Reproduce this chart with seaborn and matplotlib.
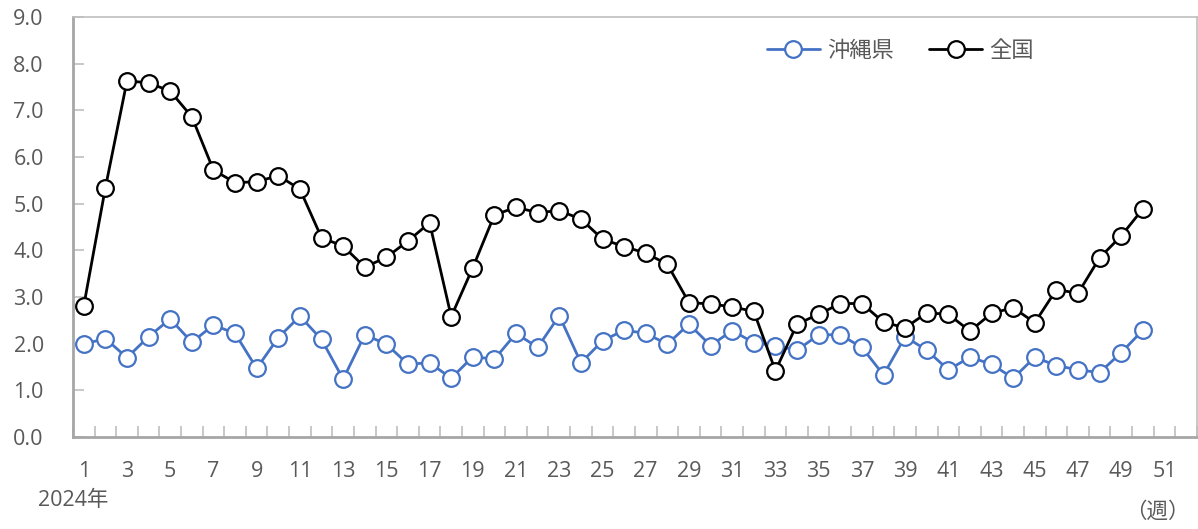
import matplotlib
matplotlib.use("Agg")
import matplotlib.pyplot as plt
import seaborn as sns
import pandas as pd
from matplotlib.ticker import FixedLocator, FormatStrFormatter

# 週ごとのデータ (2024年)
weeks = list(range(1, 51))
okinawa = [1.99, 2.11, 1.70, 2.15, 2.53, 2.03, 2.40, 2.22, 1.47, 2.13,
           2.59, 2.09, 1.24, 2.19, 1.99, 1.56, 1.59, 1.26, 1.72, 1.67,
           2.22, 1.92, 2.60, 1.59, 2.06, 2.29, 2.22, 1.99, 2.42, 1.96,
           2.28, 2.02, 1.96, 1.86, 2.19, 2.19, 1.92, 1.33, 2.15, 1.86,
           1.44, 1.71, 1.56, 1.26, 1.71, 1.53, 1.44, 1.38, 1.81, 2.29]
zenkoku = [2.81, 5.34, 7.63, 7.59, 7.41, 6.86, 5.72, 5.45, 5.47, 5.60,
           5.31, 4.27, 4.09, 3.64, 3.85, 4.20, 4.59, 2.58, 3.63, 4.76,
           4.92, 4.81, 4.85, 4.67, 4.24, 4.08, 3.94, 3.70, 2.88, 2.85,
           2.79, 2.69, 1.42, 2.42, 2.63, 2.86, 2.86, 2.46, 2.34, 2.66,
           2.63, 2.27, 2.65, 2.77, 2.45, 3.16, 3.08, 3.84, 4.31, 4.89]
week_labels = list(range(1, 52, 2))
y_ticks = [0, 1, 2, 3, 4, 5, 6, 7, 8, 9]

sns.set_style("white")
plt.rcParams['font.family'] = ['Open Sans', 'Noto Sans CJK JP', 'DejaVu Sans']

fig = plt.figure(figsize=(11.98, 5.29), dpi=100)
ax = fig.add_axes([0.0609, 0.1739, 0.9382, 0.794])

df1 = pd.DataFrame({'week': weeks, 'value': okinawa})
df2 = pd.DataFrame({'week': weeks, 'value': zenkoku})

sns.lineplot(data=df1, x='week', y='value', ax=ax, color='#4472C4', lw=2.0,
             marker='o', markersize=12, markerfacecolor='white',
             markeredgecolor='#4472C4', markeredgewidth=1.6, label='沖縄県')
sns.lineplot(data=df2, x='week', y='value', ax=ax, color='black', lw=2.0,
             marker='o', markersize=12, markerfacecolor='white',
             markeredgecolor='black', markeredgewidth=1.6, label='全国')

ax.set_xlim(0.5, 52.5)
ax.set_ylim(0, 9)
ax.set_xlabel('')
ax.set_ylabel('')

# x: 奇数週のラベル、目盛り線は区切り位置
ax.xaxis.set_major_locator(FixedLocator(week_labels))
ax.set_xticklabels([str(w) for w in week_labels])
ax.xaxis.set_minor_locator(FixedLocator([w + 0.5 for w in range(0, 53)]))
ax.tick_params(axis='x', which='major', length=0, pad=17, labelsize=15.5, colors='#595959')
ax.tick_params(axis='x', which='minor', length=8, width=1.2, direction='in', color='#bfbfbf', bottom=True)

ax.set_yticks(y_ticks)
ax.yaxis.set_major_formatter(FormatStrFormatter('%.1f'))
ax.tick_params(axis='y', length=8, width=1.2, direction='in', pad=21, labelsize=15.5,
               colors='#595959', color='#bfbfbf', left=True)

for s in ['left', 'bottom']:
    ax.spines[s].set_color('#a6a6a6')
    ax.spines[s].set_linewidth(2)
for s in ['top', 'right']:
    ax.spines[s].set_color('#bfbfbf')
    ax.spines[s].set_linewidth(1.2)

leg = ax.legend(loc='center', bbox_to_anchor=(0.736, 0.919), ncol=2, frameon=False,
                fontsize=16, handlelength=2.4, columnspacing=1.6, handletextpad=0.3)
for t in leg.get_texts():
    t.set_color('#595959')

fig.text(38 / 1198, 1 - 500 / 529, '2024年', fontsize=15.5, color='#595959', va='center', ha='left')
fig.text(1190 / 1198, 1 - 512 / 529, '（週）', fontsize=15.5, color='#595959', va='center', ha='right')

fig.savefig('out.png', dpi=100)
